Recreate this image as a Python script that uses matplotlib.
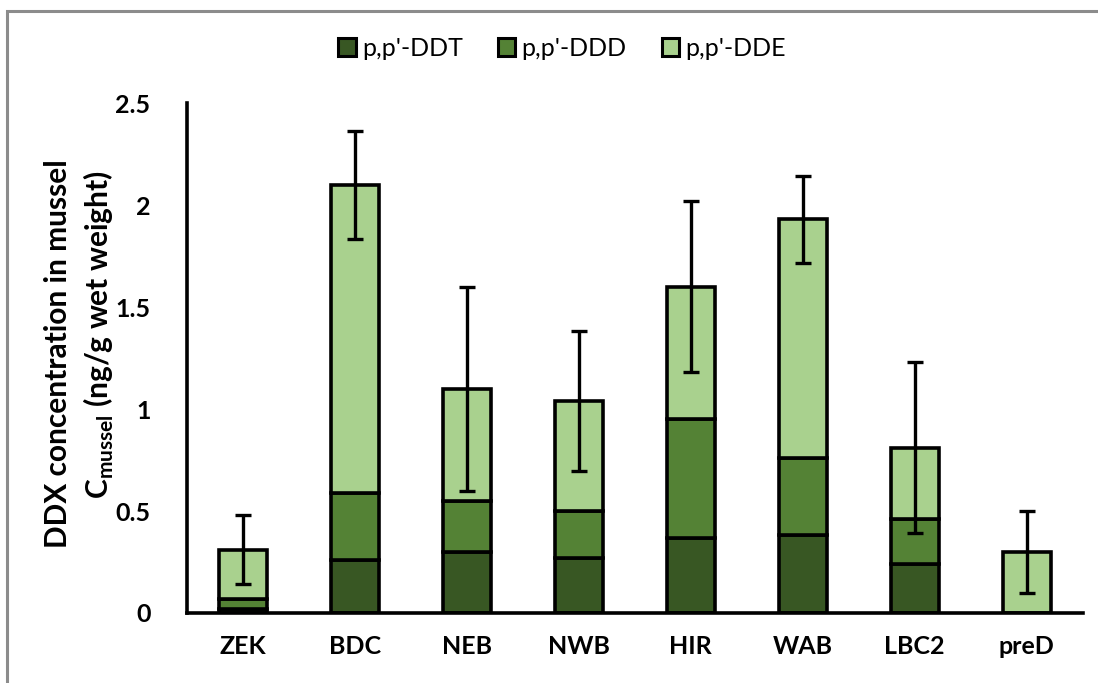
import matplotlib
matplotlib.use("Agg")
import matplotlib.pyplot as plt
from matplotlib.patches import Rectangle
import numpy as np

plt.rcParams.update({
    "font.family": ["Lato", "DejaVu Sans"],
    "mathtext.fontset": "custom",
    "mathtext.rm": "Lato",
    "mathtext.bf": "Lato:bold",
})

sites = ["ZEK", "BDC", "NEB", "NWB", "HIR", "WAB", "LBC2", "preD"]
ddt = [0.02, 0.26, 0.30, 0.27, 0.37, 0.38, 0.24, 0.0]
ddd = [0.05, 0.33, 0.25, 0.23, 0.58, 0.38, 0.22, 0.0]
dde = [0.24, 1.51, 0.55, 0.54, 0.65, 1.17, 0.35, 0.30]
err = [0.17, 0.265, 0.50, 0.345, 0.42, 0.215, 0.42, 0.20]

DARK, MID, LIGHT = "#385723", "#548235", "#a9d18e"

fig = plt.figure(figsize=(10.98, 6.83), dpi=100)
ax = fig.add_axes([0.170, 0.1025, 0.816, 0.7465])

# grey chart-area frame (only top/left visible in the crop)
fig.patches.append(Rectangle((7 / 1098, -0.1), 1.2, 1 - 11 / 683 + 0.1,
                             transform=fig.transFigure, fill=False,
                             edgecolor="#8c8c8c", linewidth=2.2))

x = np.arange(len(sites))
w = 0.43
kw = dict(width=w, edgecolor="black", linewidth=2.6, zorder=2)
ax.bar(x, ddt, color=DARK, label="p,p'-DDT", **kw)
ax.bar(x, ddd, bottom=ddt, color=MID, label="p,p'-DDD", **kw)
bot = np.array(ddt) + np.array(ddd)
ax.bar(x, dde, bottom=bot, color=LIGHT, label="p,p'-DDE", **kw)
total = bot + np.array(dde)
ax.errorbar(x, total, yerr=err, fmt="none", ecolor="black", elinewidth=2.4,
            capsize=6, capthick=2.4, zorder=3)

ax.set_xlim(-0.5, len(sites) - 0.5)
ax.set_ylim(0, 2.5)
ax.set_yticks([0, 0.5, 1, 1.5, 2, 2.5])
ax.set_yticklabels(["0", "0.5", "1", "1.5", "2", "2.5"])
ax.set_xticks(x)
ax.set_xticklabels(sites)
ax.tick_params(length=0, labelsize=18)
for t in ax.get_xticklabels() + ax.get_yticklabels():
    t.set_fontweight("bold")
ax.tick_params(axis="x", pad=16)
ax.tick_params(axis="y", pad=26)
for s in ("top", "right"):
    ax.spines[s].set_visible(False)
for s in ("left", "bottom"):
    ax.spines[s].set_linewidth(2.6)

# two-line y label, each line placed on its own
ylab = dict(rotation=90, ha="center", va="center", fontsize=21.5,
            fontweight="bold")
fig.text(58 / 1098, 1 - 354 / 683, "DDX concentration in mussel", **ylab)
fig.text(99 / 1098, 1 - 335 / 683,
         r"C$_{\mathbf{mussel}}$ (ng/g wet weight)", **ylab)

leg = ax.legend(loc="center", bbox_to_anchor=(0.419, 1.108), ncol=3,
                frameon=False, fontsize=18, handlelength=0.7,
                handleheight=0.7, handletextpad=0.25, columnspacing=1.4)
for h in leg.legend_handles:
    h.set_linewidth(2.2)

fig.savefig("out.png", dpi=100)
